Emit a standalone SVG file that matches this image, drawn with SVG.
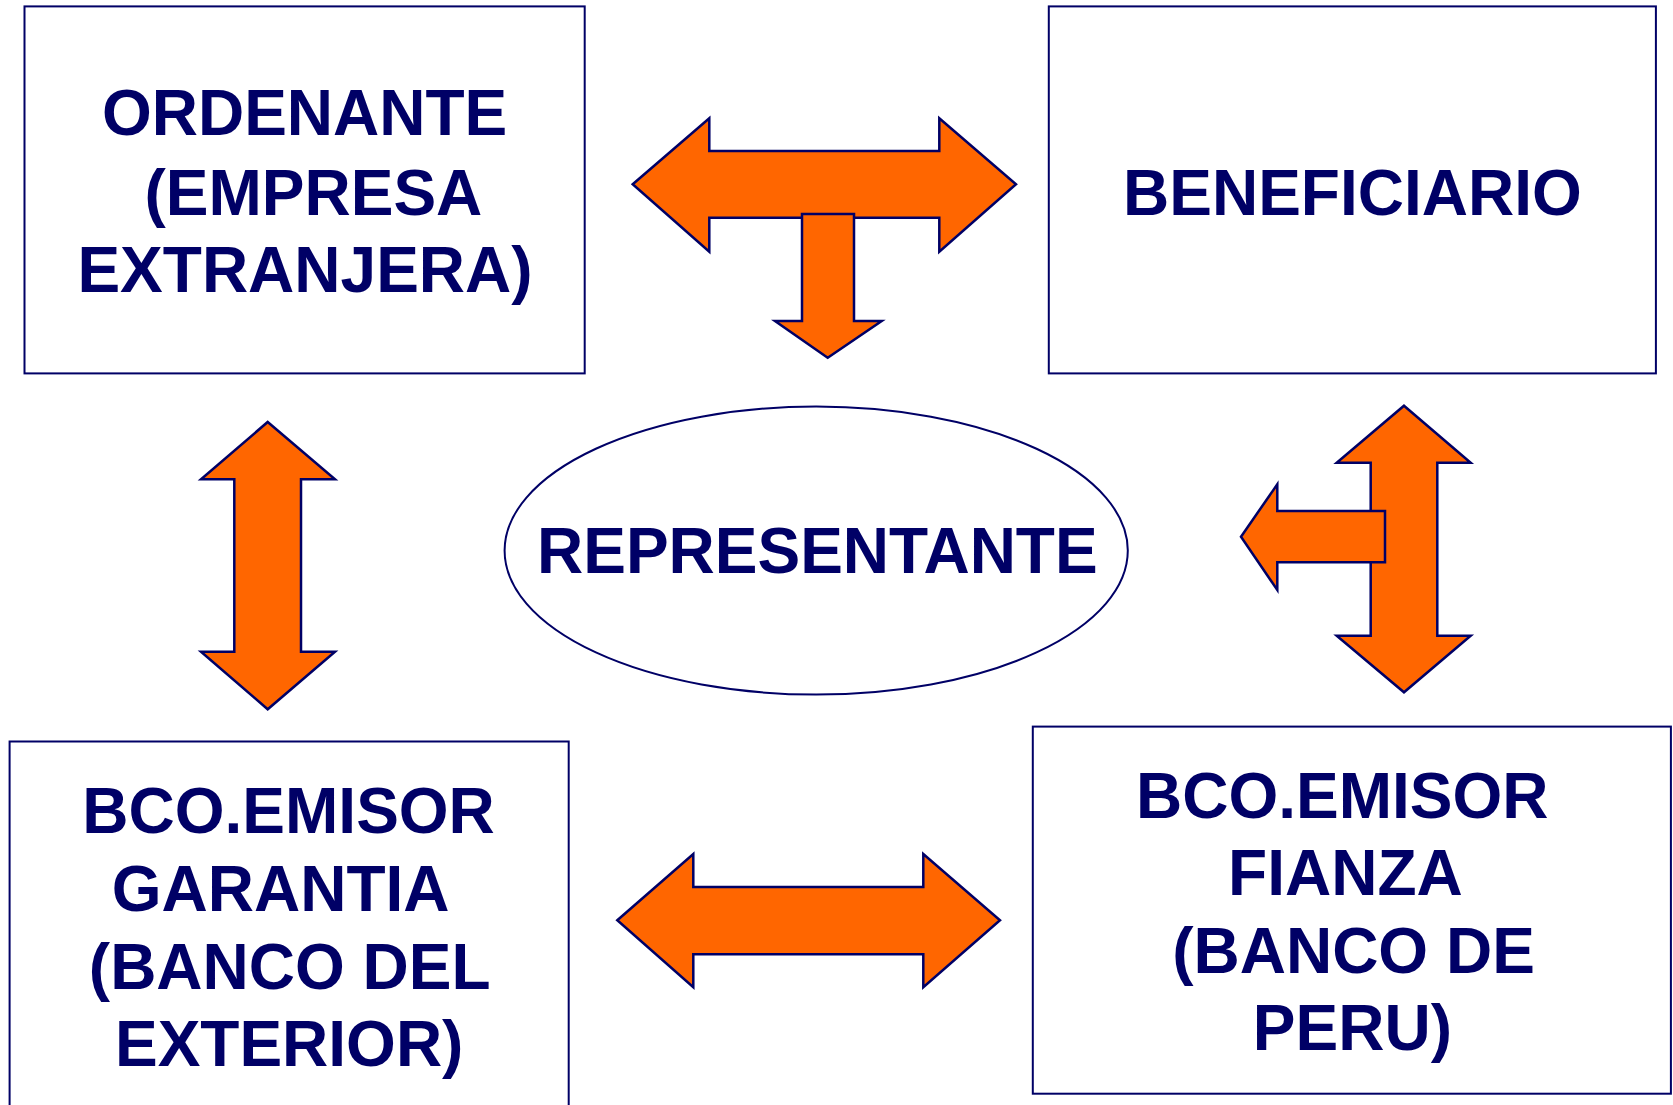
<svg xmlns="http://www.w3.org/2000/svg" width="1673" height="1105" viewBox="0 0 1673 1105">
<style>
.box{fill:#fff;stroke:#000066;stroke-width:2}
.arr{fill:#FF6600;stroke:#000066;stroke-width:2.5;stroke-linejoin:miter}
.t{font-family:"Liberation Sans",Arial,sans-serif;font-weight:bold;font-size:64px;fill:#000066;text-anchor:middle}
</style>
<rect width="1673" height="1105" fill="#fff"/>
<g id="connectors">
<polygon class="arr" points="632.7,184.3 709.3,118.3 709.3,151 939.3,151 939.3,118.3 1016,184.3 939.3,251.7 939.3,217.7 709.3,217.7 709.3,251.7"/>
<polygon class="arr" points="802,214 854,214 854,321 881.7,321 827.7,357.7 775,321 802,321"/>
<polygon class="arr" points="267.7,422 335,479.3 301,479.3 301,651.7 335,651.7 267.7,709.3 201,651.7 234.3,651.7 234.3,479.3 201,479.3"/>
<polygon class="arr" points="1404,405.7 1470.7,462.7 1437.3,462.7 1437.3,635.7 1470.7,635.7 1404,692.3 1336.7,635.7 1370.7,635.7 1370.7,462.7 1336.7,462.7"/>
<polygon class="arr" points="1241,536.7 1277.3,484.3 1277.3,511 1385,511 1385,562.3 1277.3,562.3 1277.3,590"/>
<polygon class="arr" points="617.3,920.3 693.3,854 693.3,887 923.3,887 923.3,854 1000,920.3 923.3,987.3 923.3,954.3 693.3,954.3 693.3,987.3"/>
</g>
<g id="ordenante">
<rect class="box" x="24.5" y="6.4" width="560.2" height="367"/>
<text class="t" x="304.6" y="135">ORDENANTE</text>
<text class="t" x="313.4" y="215">(EMPRESA</text>
<text class="t" x="305" y="292">EXTRANJERA)</text>
</g>
<g id="beneficiario">
<rect class="box" x="1048.8" y="6.4" width="607.1" height="367"/>
<text class="t" x="1352.4" y="215">BENEFICIARIO</text>
</g>
<g id="representante">
<ellipse class="box" cx="816.2" cy="550.6" rx="311.6" ry="144"/>
<text class="t" x="817.3" y="573">REPRESENTANTE</text>
</g>
<g id="bco-garantia">
<rect class="box" x="9.6" y="741.5" width="559.1" height="370"/>
<text class="t" x="288.6" y="833">BCO.EMISOR</text>
<text class="t" x="280.6" y="911">GARANTIA</text>
<text class="t" x="289.7" y="989">(BANCO DEL</text>
<text class="t" x="289.2" y="1066">EXTERIOR)</text>
</g>
<g id="bco-fianza">
<rect class="box" x="1032.8" y="726.6" width="638.1" height="367.1"/>
<text class="t" x="1342.3" y="818">BCO.EMISOR</text>
<text class="t" x="1345.4" y="895">FIANZA</text>
<text class="t" x="1353.5" y="973">(BANCO DE</text>
<text class="t" x="1352.4" y="1050">PERU)</text>
</g>
</svg>
